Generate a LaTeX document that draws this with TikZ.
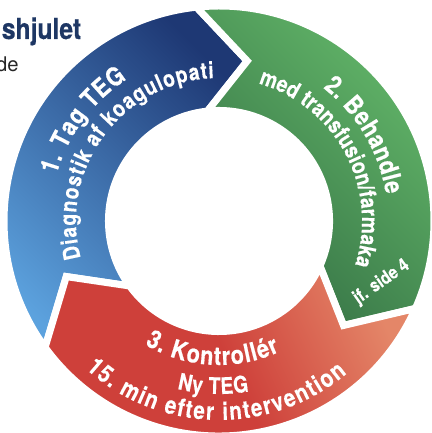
\documentclass[tikz,border=0pt]{standalone}
\usepackage{fontspec}
\setmainfont{TeX Gyre Heros}
\setsansfont{TeX Gyre Heros}
\newfontfamily\condfont[FakeStretch=0.84,FakeBold=0.25]{TeX Gyre Heros}
\newfontfamily\heavyfont[FakeStretch=0.85,FakeBold=0.6]{TeX Gyre Heros}
\usepackage{tikz}
\usetikzlibrary{decorations.text}

\definecolor{bluelight}{RGB}{92,162,222}
\definecolor{bluedark}{RGB}{30,56,116}
\definecolor{greenlight}{RGB}{100,184,106}
\definecolor{greendark}{RGB}{52,112,68}
\definecolor{redmain}{RGB}{206,64,58}
\definecolor{redlight}{RGB}{228,134,104}
\definecolor{titleblue}{RGB}{30,55,100}

\newcommand\ringfont[1]{\condfont\fontsize{#1}{#1}\selectfont\bfseries}
\newcommand\stepfont[1]{\heavyfont\fontsize{#1}{#1}\selectfont\bfseries}

\begin{document}
\begin{tikzpicture}
\useasboundingbox (0,0) rectangle (8.62,8.66);
\tikzstyle{segment}=[draw=white,line width=4pt,line join=miter]
\tikzstyle{curved}=[decorate,decoration={text along path,text color=white,text align={fit to path}}]
% title lines, cut at the left edge
\node[anchor=base west,inner sep=0pt,text=titleblue,font=\stepfont{16.5}] (title) at (0.03,7.88) {shjulet};
\node[anchor=base east,inner sep=0pt,text=black!85,font=\fontsize{11.5}{11.5}\selectfont] (sub) at (0.38,7.22) {de};
\begin{scope}[shift={(4.38,4.24)}]
\def\ro{4.30}
\def\ri{2.21}
\def\rm{3.25}
% three arrow segments of the wheel
\foreach \a/\bc/\mc/\tc/\ang in {
	216/bluelight/bluelight!50!bluedark/bluedark/-45,
	96/greendark/greendark!50!greenlight/greenlight/-45,
	-24/redmain/redmain/redlight/-65}
	\path[segment,top color=\tc,bottom color=\bc,middle color=\mc,shading angle=\ang]
		(\a:\ro) arc[start angle=\a,end angle=\a-120,radius=\ro] -- (\a-136:\rm)
		-- (\a-120:\ri) arc[start angle=\a-120,end angle=\a,radius=\ri] -- (\a-16:\rm) -- cycle;
% step 1
\path[curved,decoration={text={|\stepfont{14.5}|1. Tag TEG}}] (164:3.38) arc[start angle=164,end angle=123,radius=3.38];
\path[curved,decoration={text={|\ringfont{13}|Diagnostik af koagulopati}}] (195:2.86) arc[start angle=195,end angle=92,radius=2.86];
% step 2
\path[curved,decoration={text={|\stepfont{14.5}|2. Behandle}}] (52:3.38) arc[start angle=52,end angle=9,radius=3.38];
\path[curved,decoration={text={|\ringfont{13}|med transfusion/farmaka}}] (74:2.86) arc[start angle=74,end angle=-18,radius=2.86];
\node[rotate=35,text=white,font=\ringfont{10.5}] (ref) at (3.25,-1.22) {jf. side 4};
% step 3
\path[curved,decoration={text={|\stepfont{14.5}|3. Kontrollér}}] (-121:2.88) arc[start angle=-121,end angle=-65,radius=2.88];
\path[curved,decoration={text={|\ringfont{13}|Ny TEG}}] (-104:3.46) arc[start angle=-104,end angle=-80,radius=3.46];
\path[curved,decoration={text={|\ringfont{14}|15. min efter intervention}}] (-132:3.98) arc[start angle=-132,end angle=-50,radius=3.98];
\end{scope}
\end{tikzpicture}
\end{document}
